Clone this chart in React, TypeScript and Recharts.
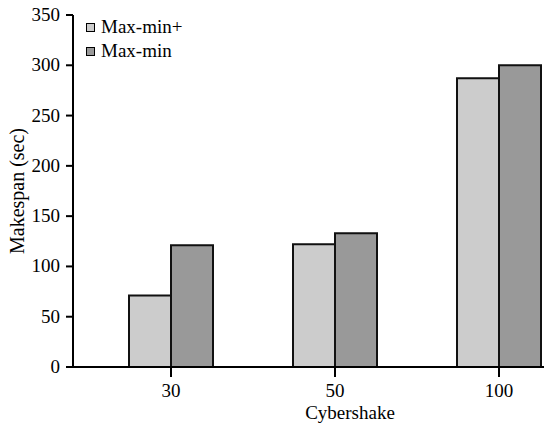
import { Bar, BarChart, Label, XAxis, YAxis } from "recharts";

const categories = ["30", "50", "100"];
const maxMinPlus = [71, 122, 287];
const maxMin = [121, 133, 300];
const yTicks = [0, 50, 100, 150, 200, 250, 300, 350];

const FONT = "Liberation Serif";
const LIGHT = "#cccccc";
const DARK = "#999999";

const data = categories.map((name, i) => ({
  name,
  plus: maxMinPlus[i],
  plain: maxMin[i],
}));

const legendItems = [
  { name: "Max-min+", color: LIGHT },
  { name: "Max-min", color: DARK },
];

function LegendBox() {
  return (
    <div
      style={{
        position: "absolute",
        left: 86,
        top: 15,
        fontFamily: "'Liberation Serif', serif",
        fontSize: 19,
        lineHeight: "24px",
        color: "#000",
      }}
    >
      {legendItems.map((it) => (
        <div key={it.name} style={{ display: "flex", alignItems: "center" }}>
          <span
            style={{
              width: 7,
              height: 7,
              border: "1.5px solid #000",
              background: it.color,
              marginRight: 6,
              display: "inline-block",
            }}
          />
          {it.name}
        </div>
      ))}
    </div>
  );
}

function XTick({ x, y, payload }: any) {
  return (
    <text x={x} y={y + 14} textAnchor="middle" fontFamily={FONT} fontSize={19} fill="#000">
      {payload.value}
    </text>
  );
}

function YTick({ x, y, payload }: any) {
  return (
    <text x={x} y={y + 6} textAnchor="end" fontFamily={FONT} fontSize={19} fill="#000">
      {payload.value}
    </text>
  );
}

export default function App() {
  return (
    <div
      style={{
        position: "absolute",
        left: 0,
        top: 0,
        width: 544,
        height: 425,
        overflow: "hidden",
        background: "#fff",
        fontFamily: "'Liberation Serif', serif",
      }}
    >
      <BarChart
        width={597}
        height={425}
        data={data}
        margin={{ top: 15, right: 0, bottom: 0, left: 0 }}
        barCategoryGap={40}
        barGap={0}
      >
        <XAxis
          dataKey="name"
          height={58}
          padding={{ left: 16, right: 16 }}
          tick={<XTick />}
          tickSize={10}
          tickMargin={6}
          axisLine={{ stroke: "#000", strokeWidth: 2 }}
          tickLine={{ stroke: "#000", strokeWidth: 2 }}
        >
          <Label
            content={({ viewBox }: any) => (
              <text
                x={viewBox.x + viewBox.width / 2 + 15}
                y={viewBox.y + 52}
                textAnchor="middle"
                fontFamily={FONT}
                fontSize={19}
                fill="#000"
              >
                Cybershake
              </text>
            )}
          />
        </XAxis>
        <YAxis
          width={73}
          domain={[0, 350]}
          ticks={yTicks}
          tick={<YTick />}
          tickSize={7}
          tickMargin={6}
          axisLine={{ stroke: "#000", strokeWidth: 2 }}
          tickLine={{ stroke: "#000", strokeWidth: 2 }}
        >
          <Label
            content={() => (
              <text
                x={0}
                y={0}
                transform="translate(24,191) rotate(-90)"
                textAnchor="middle"
                fontFamily={FONT}
                fontSize={20}
                fill="#000"
              >
                Makespan (sec)
              </text>
            )}
          />
        </YAxis>
        <Bar
          dataKey="plus"
          name="Max-min+"
          fill={LIGHT}
          stroke="#111"
          strokeWidth={2}
          isAnimationActive={false}
        />
        <Bar
          dataKey="plain"
          name="Max-min"
          fill={DARK}
          stroke="#111"
          strokeWidth={2}
          isAnimationActive={false}
        />
      </BarChart>
      <LegendBox />
    </div>
  );
}
